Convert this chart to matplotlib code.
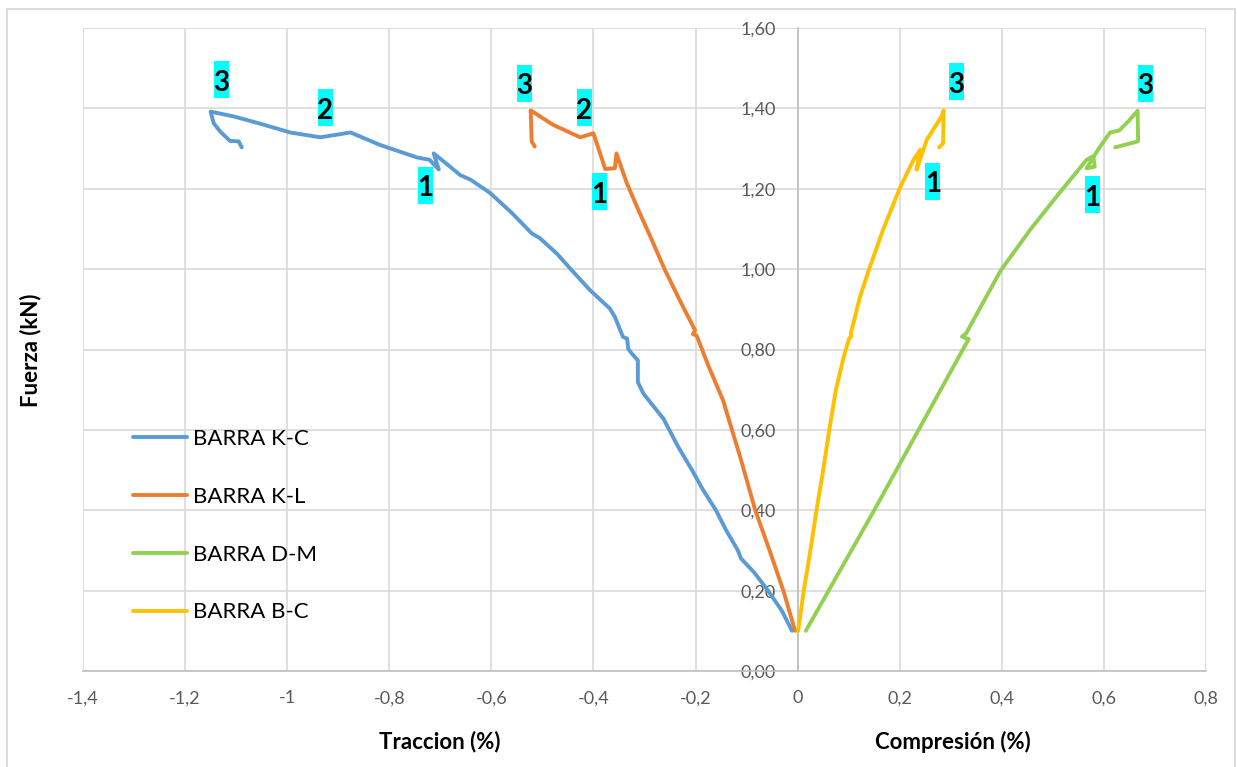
import matplotlib
matplotlib.use("Agg")
import matplotlib.pyplot as plt
from matplotlib.ticker import FuncFormatter, MultipleLocator
from matplotlib.patches import Rectangle

plt.rcParams["font.family"] = ["Lato", "DejaVu Sans"]
plt.rcParams["axes.unicode_minus"] = False

# Strain (%) vs. load (kN) for each bar
kc_x = [-0.011, -0.031, -0.058, -0.085, -0.111, -0.117, -0.140, -0.160, -0.185, -0.207,
        -0.235, -0.263, -0.302, -0.313, -0.313, -0.325, -0.332, -0.334, -0.342, -0.358,
        -0.368, -0.407, -0.443, -0.472, -0.505, -0.521, -0.560, -0.602, -0.640, -0.661,
        -0.681, -0.713, -0.703, -0.721, -0.746, -0.818, -0.876, -0.935, -0.994, -1.056,
        -1.105, -1.150, -1.144, -1.131, -1.112, -1.095, -1.089]
kc_y = [0.100, 0.150, 0.200, 0.245, 0.280, 0.300, 0.350, 0.400, 0.450, 0.500,
        0.560, 0.628, 0.690, 0.719, 0.773, 0.790, 0.802, 0.827, 0.831, 0.881,
        0.902, 0.948, 0.998, 1.039, 1.077, 1.089, 1.140, 1.189, 1.222, 1.234,
        1.255, 1.288, 1.248, 1.272, 1.278, 1.309, 1.340, 1.328, 1.340, 1.363,
        1.380, 1.392, 1.363, 1.342, 1.319, 1.318, 1.303]

kl_x = [-0.005, -0.028, -0.055, -0.083, -0.112, -0.146, -0.175, -0.198, -0.205, -0.201,
        -0.230, -0.260, -0.290, -0.312, -0.335, -0.355, -0.358, -0.377, -0.400, -0.426,
        -0.479, -0.523, -0.521, -0.515]
kl_y = [0.100, 0.200, 0.300, 0.400, 0.530, 0.673, 0.760, 0.835, 0.838, 0.848,
        0.920, 0.998, 1.085, 1.147, 1.215, 1.288, 1.251, 1.249, 1.338, 1.328,
        1.359, 1.395, 1.318, 1.305]

dm_x = [0.016, 0.150, 0.250, 0.335, 0.322, 0.330, 0.398, 0.455, 0.510,
        0.566, 0.579, 0.582, 0.566, 0.590, 0.612, 0.630, 0.648, 0.666, 0.667, 0.622]
dm_y = [0.100, 0.400, 0.630, 0.826, 0.832, 0.840, 0.997, 1.097, 1.185,
        1.272, 1.281, 1.255, 1.251, 1.300, 1.340, 1.345, 1.368, 1.394, 1.318, 1.303]

bc_x = [0.001, 0.012, 0.025, 0.037, 0.050, 0.062, 0.075, 0.090, 0.101, 0.105,
        0.104, 0.122, 0.140, 0.168, 0.200, 0.227, 0.240, 0.233, 0.253, 0.282,
        0.286, 0.285, 0.277]
bc_y = [0.100, 0.200, 0.300, 0.400, 0.500, 0.600, 0.700, 0.780, 0.828, 0.832,
        0.840, 0.930, 1.000, 1.100, 1.201, 1.272, 1.297, 1.247, 1.322, 1.380,
        1.395, 1.313, 1.303]

series_names = ["BARRA K-C", "BARRA K-L", "BARRA D-M", "BARRA B-C"]
series_colors = ["#5B9BD5", "#ED7D31", "#92D050", "#FFC000"]

# Stage markers (1, 2, 3) placed next to each curve
stage_labels = ["3", "2", "1", "3", "2", "1", "3", "1", "3", "1"]
stage_x = [-1.129, -0.925, -0.730, -0.535, -0.418, -0.388, 0.311, 0.265, 0.681, 0.577]
stage_y = [1.471, 1.401, 1.209, 1.463, 1.401, 1.193, 1.466, 1.219, 1.462, 1.185]

fig = plt.figure(figsize=(12.37, 7.67), dpi=100)
ax = fig.add_axes([83 / 1237, 1 - 671 / 767, (1206 - 83) / 1237, (671 - 28) / 767])

fig.patches.append(Rectangle((7 / 1237, -0.02), (1235 - 7) / 1237, 1.02 - 9 / 767,
                             transform=fig.transFigure, fill=False,
                             edgecolor="#D9D9D9", linewidth=1.3))

xs = [kc_x, kl_x, dm_x, bc_x]
ys = [kc_y, kl_y, dm_y, bc_y]
for x, y, name, c in zip(xs, ys, series_names, series_colors):
    ax.plot(x, y, color=c, lw=2.8, label=name, solid_capstyle="round",
            solid_joinstyle="round", zorder=3)

ax.set_xlim(-1.4, 0.8)
ax.set_ylim(0, 1.6)

# cyan tag behind each stage number (15 x 37 px)
px_x = (0.8 - (-1.4)) / 1123
px_y = 1.6 / 643
box_w, box_h = 15 * px_x, 37 * px_y
for t, x, y in zip(stage_labels, stage_x, stage_y):
    ax.add_patch(Rectangle((x - box_w / 2, y - box_h / 2), box_w, box_h,
                           facecolor="#00FFFF", edgecolor="none", zorder=4))
    ax.text(x, y - 3 * px_y, t, ha="center", va="center", fontsize=20,
            fontweight="bold", color="black", zorder=5)

ax.xaxis.set_major_locator(MultipleLocator(0.2))
ax.yaxis.set_major_locator(MultipleLocator(0.2))


def fmt_x(v, pos):
    s = f"{v:.1f}"
    if s.endswith(".0"):
        s = s[:-2]
    if s == "-0":
        s = "0"
    return s.replace(".", ",")


def fmt_y(v, pos):
    return f"{v:.2f}".replace(".", ",")


ax.xaxis.set_major_formatter(FuncFormatter(fmt_x))
ax.yaxis.set_major_formatter(FuncFormatter(fmt_y))

ax.grid(True, color="#D9D9D9", lw=1.2, zorder=0)
ax.set_axisbelow(True)
for s in ("top", "right"):
    ax.spines[s].set_visible(False)
ax.spines["left"].set_position(("data", 0))
ax.spines["left"].set_color("#BFBFBF")
ax.spines["left"].set_linewidth(1.2)
ax.spines["bottom"].set_color("#BFBFBF")
ax.spines["bottom"].set_linewidth(1.2)
ax.tick_params(axis="both", length=0, labelsize=13, labelcolor="#595959")
ax.tick_params(axis="y", pad=16)
ax.tick_params(axis="x", pad=14)

leg = ax.legend(loc="upper left", bbox_to_anchor=(113 / 1237, 1 - 409 / 767),
                bbox_transform=fig.transFigure, frameon=False, fontsize=16,
                handlelength=2.45, handletextpad=0.25, labelspacing=1.70)
for line in leg.get_lines():
    line.set_linewidth(2.8)

fig.text(440 / 1237, 1 - 742 / 767, "Traccion (%)", ha="center", va="center",
         fontsize=16, fontweight="bold")
fig.text(953 / 1237, 1 - 742 / 767, "Compresión (%)", ha="center", va="center",
         fontsize=16, fontweight="bold")
fig.text(31 / 1237, 1 - 350 / 767, "Fuerza (kN)", ha="center", va="center",
         rotation=90, fontsize=16, fontweight="bold")

fig.savefig("out.png", dpi=100)
